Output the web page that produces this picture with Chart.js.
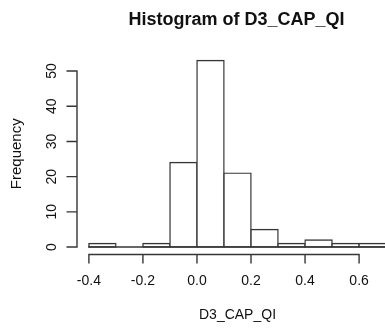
<!DOCTYPE html>
<html><head><meta charset="utf-8">
<script src="https://cdn.jsdelivr.net/npm/chart.js@4/dist/chart.umd.min.js"></script>
<style>
html,body{margin:0;padding:0;background:#fff;overflow:hidden}
#wrap{width:385px;height:329px;overflow:hidden;position:relative;background:#fff}
canvas{display:block}
</style></head><body>
<div id="wrap"><canvas id="c" width="420" height="329"></canvas></div>
<script>
// Histogram bins (left edges) and their counts
const binStarts = [-0.4, -0.3, -0.2, -0.1, 0.0, 0.1, 0.2, 0.3, 0.4, 0.5, 0.6];
const counts = [1, 0, 1, 24, 53, 21, 5, 1, 2, 1, 1];
const binWidth = 0.1;

// Axis ticks and labels
const xTicks = [-0.4, -0.2, 0.0, 0.2, 0.4, 0.6];
const xLabels = ['-0.4', '-0.2', '0.0', '0.2', '0.4', '0.6'];
const yTicks = [0, 10, 20, 30, 40, 50];
const yLabels = ['0', '10', '20', '30', '40', '50'];

const titleText = 'Histogram of D3_CAP_QI';
const xTitle = 'D3_CAP_QI';
const yTitle = 'Frequency';

// plot region extends 4% beyond the data range on each side
const xLo = binStarts[0], xHi = binStarts[binStarts.length - 1] + binWidth;
const xPad = (xHi - xLo) * 0.04;
const yHi = Math.max(...counts), yPad = yHi * 0.04;

const INK = '#363636';
const LW = 1.4;
const FONT = '"Liberation Sans", Arial, sans-serif';

const rAxes = {
  id: 'rAxes',
  afterDraw(chart) {
    const { ctx, chartArea: a, scales: { x, y } } = chart;
    ctx.save();
    ctx.strokeStyle = INK;
    ctx.fillStyle = '#111';
    ctx.lineWidth = LW;

    // baseline under all bins (covers empty bins)
    const y0 = y.getPixelForValue(0);
    ctx.beginPath();
    ctx.moveTo(x.getPixelForValue(xLo) - LW / 2, y0);
    ctx.lineTo(x.getPixelForValue(xHi), y0);
    ctx.stroke();

    // x axis along the bottom of the plot region
    const xa = a.bottom;
    ctx.beginPath();
    ctx.moveTo(x.getPixelForValue(xTicks[0]) - LW / 2, xa);
    ctx.lineTo(x.getPixelForValue(xTicks[xTicks.length - 1]) + LW / 2, xa);
    xTicks.forEach(v => {
      const px = x.getPixelForValue(v);
      ctx.moveTo(px, xa);
      ctx.lineTo(px, xa + 9);
    });
    ctx.stroke();
    ctx.font = '14px ' + FONT;
    ctx.textAlign = 'center';
    ctx.textBaseline = 'middle';
    xTicks.forEach((v, i) => {
      ctx.fillText(xLabels[i], x.getPixelForValue(v), a.bottom + 27);
    });

    // y axis along the left of the plot region
    const ya = a.left;
    ctx.beginPath();
    ctx.moveTo(ya, y.getPixelForValue(yTicks[0]) + LW / 2);
    ctx.lineTo(ya, y.getPixelForValue(yTicks[yTicks.length - 1]) - LW / 2);
    yTicks.forEach(v => {
      const py = y.getPixelForValue(v);
      ctx.moveTo(ya, py);
      ctx.lineTo(ya - 10.5, py);
    });
    ctx.stroke();
    yTicks.forEach((v, i) => {
      ctx.save();
      ctx.translate(a.left - 25, y.getPixelForValue(v));
      ctx.rotate(-Math.PI / 2);
      ctx.fillText(yLabels[i], 0, 0);
      ctx.restore();
    });

    // axis titles
    const cx = (a.left + a.right) / 2;
    ctx.fillText(xTitle, cx, a.bottom + 61);
    ctx.save();
    ctx.font = '15px ' + FONT;
    ctx.translate(a.left - 60, (a.top + a.bottom) / 2);
    ctx.rotate(-Math.PI / 2);
    ctx.fillText(yTitle, 0, 0);
    ctx.restore();

    // main title
    ctx.font = 'bold 18px ' + FONT;
    ctx.fillStyle = '#111';
    ctx.fillText(titleText, cx - 1, 20);
    ctx.restore();
  }
};

new Chart(document.getElementById('c'), {
  type: 'bar',
  data: {
    datasets: [{
      data: binStarts.map((s, i) => ({ x: s + binWidth / 2, y: counts[i] })),
      backgroundColor: '#ffffff',
      borderColor: INK,
      borderWidth: LW,
      borderSkipped: false,
      // shift the border outward by half its width so it sits centred on the bin edges
      inflateAmount: LW / 2,
      barPercentage: 1,
      categoryPercentage: 1
    }]
  },
  options: {
    responsive: false,
    animation: false,
    events: [],
    layout: { padding: { left: 77, right: 22, top: 53, bottom: 74.5 } },
    plugins: { legend: { display: false }, tooltip: { enabled: false }, title: { display: false } },
    scales: {
      x: { type: 'linear', display: false, offset: false, min: xLo - xPad, max: xHi + xPad },
      y: { display: false, min: -yPad, max: yHi + yPad }
    }
  },
  plugins: [rAxes]
});
</script>
</body></html>
